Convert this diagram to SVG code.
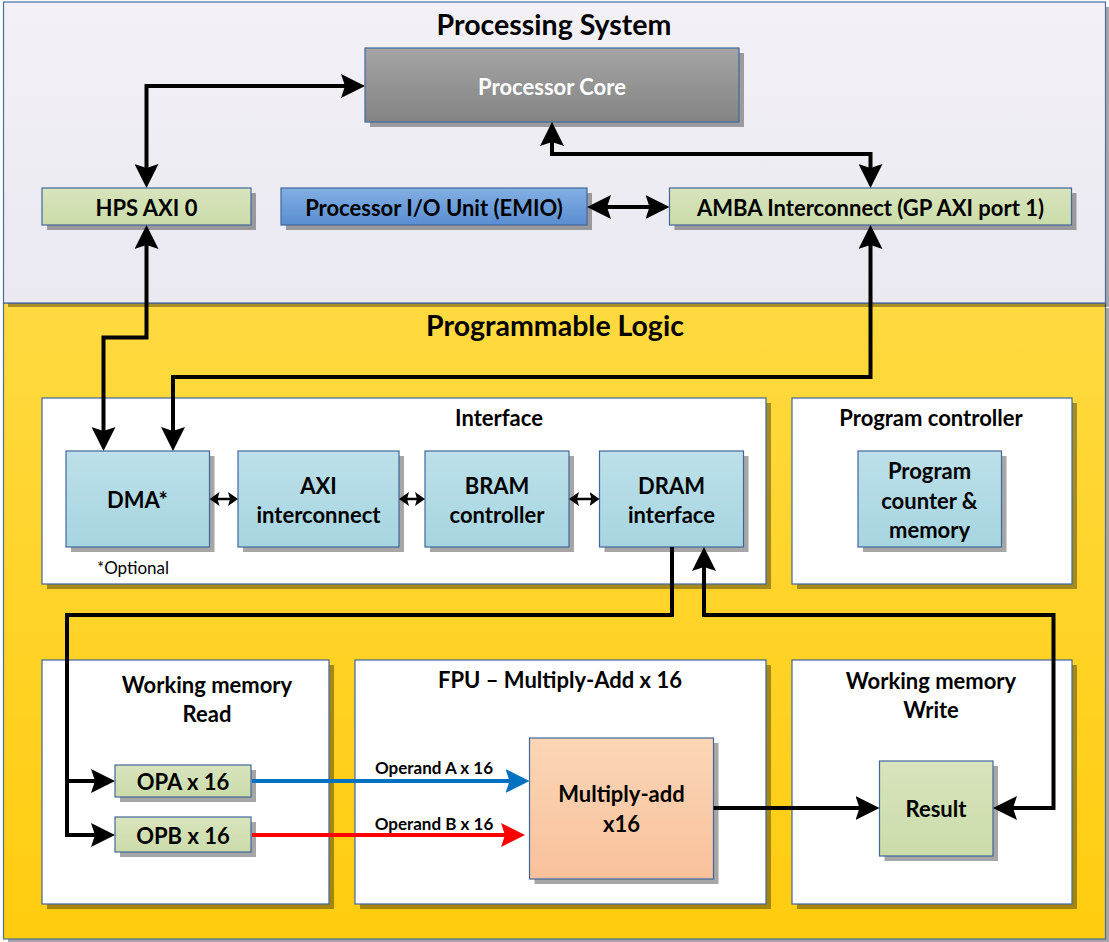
<svg xmlns="http://www.w3.org/2000/svg" width="1109" height="942" viewBox="0 0 1109 942">
  <defs>
    <linearGradient id="gPS" x1="0" y1="0" x2="0" y2="1">
      <stop offset="0" stop-color="#F3F1F7"/>
      <stop offset="1" stop-color="#EAE8F0"/>
    </linearGradient>
    <linearGradient id="gPL" x1="0" y1="0" x2="0" y2="1">
      <stop offset="0" stop-color="#FFDA40"/>
      <stop offset="1" stop-color="#FFCC0E"/>
    </linearGradient>
    <linearGradient id="gGray" x1="0" y1="0" x2="0" y2="1">
      <stop offset="0" stop-color="#A4A4A4"/>
      <stop offset="1" stop-color="#848484"/>
    </linearGradient>
    <linearGradient id="gGreen" x1="0" y1="0" x2="0" y2="1">
      <stop offset="0" stop-color="#D8E4BD"/>
      <stop offset="1" stop-color="#CBDCAA"/>
    </linearGradient>
    <linearGradient id="gBlue" x1="0" y1="0" x2="0" y2="1">
      <stop offset="0" stop-color="#82AFE3"/>
      <stop offset="1" stop-color="#5A8ED2"/>
    </linearGradient>
    <linearGradient id="gCyan" x1="0" y1="0" x2="0" y2="1">
      <stop offset="0" stop-color="#BDE0EA"/>
      <stop offset="1" stop-color="#A6D5E0"/>
    </linearGradient>
    <linearGradient id="gPeach" x1="0" y1="0" x2="0" y2="1">
      <stop offset="0" stop-color="#FCD6B6"/>
      <stop offset="1" stop-color="#F8C19B"/>
    </linearGradient>
    <!-- large arrowhead: tip lies 8px beyond the path end -->
    <marker id="arrow" viewBox="0 0 24 24" refX="16" refY="12" markerWidth="24" markerHeight="24" markerUnits="userSpaceOnUse" orient="auto-start-reverse">
      <path d="M0,0 L24,12 L0,24 L4,12 Z" fill="#000"/>
    </marker>
    <marker id="arrowBlue" viewBox="0 0 24 24" refX="16" refY="12" markerWidth="24" markerHeight="24" markerUnits="userSpaceOnUse" orient="auto">
      <path d="M0,0 L24,12 L0,24 L4,12 Z" fill="#0070C0"/>
    </marker>
    <marker id="arrowRed" viewBox="0 0 24 24" refX="16" refY="12" markerWidth="24" markerHeight="24" markerUnits="userSpaceOnUse" orient="auto">
      <path d="M0,0 L24,12 L0,24 L4,12 Z" fill="#FF0000"/>
    </marker>
    <!-- small arrowhead for the interface links -->
    <marker id="arrowSm" viewBox="0 0 10 14" refX="6" refY="7" markerWidth="10" markerHeight="14" markerUnits="userSpaceOnUse" orient="auto-start-reverse">
      <path d="M0,0 L10,7 L0,14 L2,7 Z" fill="#000"/>
    </marker>
  </defs>
  <style>
    text { font-family: "Lato", "Liberation Sans", sans-serif; font-weight: bold; fill: #000; text-anchor: middle; dominant-baseline: central; }
    .title { font-size: 28.5px; }
    .lbl { font-size: 22px; }
    .small { font-size: 17px; font-weight: normal; }
    .op { font-size: 17px; }
    .white { fill: #FFFFFF; }
    .shadow { fill: #000; fill-opacity: 0.35; }
    .frame { stroke: #4A6C9E; stroke-width: 1.2; }
    .node { stroke: #41679A; stroke-width: 1.2; }
    .container { fill: #FFFFFF; stroke: #3F64A0; stroke-width: 1.2; }
    .wire { fill: none; stroke: #000; stroke-width: 4; stroke-linejoin: miter; }
    .wire-sm { fill: none; stroke: #000; stroke-width: 2.5; }
  </style>

  <!-- Programmable Logic region -->
  <g id="programmable-logic">
    <rect class="shadow" x="8" y="308" width="1101" height="636"/>
    <rect class="frame" x="3.5" y="303" width="1102" height="636" fill="url(#gPL)"/>
    <text class="title" x="555" y="325">Programmable Logic</text>
  </g>

  <!-- Processing System region -->
  <g id="processing-system">
    <rect class="shadow" x="8" y="7" width="1101" height="300"/>
    <rect class="frame" x="3.5" y="2" width="1102" height="301" fill="url(#gPS)"/>
    <text class="title" x="554" y="24">Processing System</text>
  </g>

  <g id="processor-core">
    <rect class="shadow" x="370" y="53" width="374" height="74"/>
    <rect class="node" x="365" y="48" width="374" height="74" fill="url(#gGray)" stroke="#2F5597"/>
    <text class="lbl white" x="552" y="86">Processor Core</text>
  </g>

  <g id="hps-axi0">
    <rect class="shadow" x="47" y="193" width="209" height="37"/>
    <rect class="node" x="42" y="188" width="209" height="37" fill="url(#gGreen)"/>
    <text class="lbl" x="146.5" y="207">HPS AXI 0</text>
  </g>

  <g id="emio">
    <rect class="shadow" x="286" y="193" width="306" height="37"/>
    <rect class="node" x="281" y="188" width="306" height="37" fill="url(#gBlue)"/>
    <text class="lbl" x="434" y="207">Processor I/O Unit (EMIO)</text>
  </g>

  <g id="amba">
    <rect class="shadow" x="674.5" y="193" width="402" height="37"/>
    <rect class="node" x="669.5" y="188" width="402" height="37" fill="url(#gGreen)"/>
    <text class="lbl" x="870.5" y="207">AMBA Interconnect (GP AXI port 1)</text>
  </g>

  <!-- Interface container -->
  <g id="interface">
    <rect class="shadow" x="47" y="403" width="724" height="186"/>
    <rect class="container" x="42" y="398" width="724" height="186"/>
    <text class="lbl" x="499" y="417">Interface</text>
    <text class="small" x="133" y="567">*Optional</text>
  </g>

  <g id="dma">
    <rect class="shadow" x="71" y="456" width="143.5" height="96"/>
    <rect class="node" x="66" y="451" width="143.5" height="96" fill="url(#gCyan)"/>
    <text class="lbl" x="137.5" y="499">DMA*</text>
  </g>

  <g id="axi-interconnect">
    <rect class="shadow" x="243" y="456" width="161" height="96"/>
    <rect class="node" x="238" y="451" width="161" height="96" fill="url(#gCyan)"/>
    <text class="lbl" x="318.5" y="485">AXI</text>
    <text class="lbl" x="318.5" y="514">interconnect</text>
  </g>

  <g id="bram-controller">
    <rect class="shadow" x="430" y="456" width="144" height="96"/>
    <rect class="node" x="425" y="451" width="144" height="96" fill="url(#gCyan)"/>
    <text class="lbl" x="497" y="485">BRAM</text>
    <text class="lbl" x="497" y="514">controller</text>
  </g>

  <g id="dram-interface">
    <rect class="shadow" x="604.5" y="456" width="144" height="96"/>
    <rect class="node" x="599.5" y="451" width="144" height="96" fill="url(#gCyan)"/>
    <text class="lbl" x="671.5" y="485">DRAM</text>
    <text class="lbl" x="671.5" y="514">interface</text>
  </g>

  <!-- Program controller container -->
  <g id="program-controller">
    <rect class="shadow" x="797" y="403" width="280" height="186"/>
    <rect class="container" x="792" y="398" width="280" height="186"/>
    <text class="lbl" x="931" y="417">Program controller</text>
  </g>

  <g id="program-counter">
    <rect class="shadow" x="863" y="456" width="143.5" height="96"/>
    <rect class="node" x="858" y="451" width="143.5" height="96" fill="url(#gCyan)"/>
    <text class="lbl" x="929.5" y="470">Program</text>
    <text class="lbl" x="929.5" y="500">counter &amp;</text>
    <text class="lbl" x="929.5" y="529">memory</text>
  </g>

  <!-- Working memory read -->
  <g id="wm-read">
    <rect class="shadow" x="47" y="665" width="287" height="244"/>
    <rect class="container" x="42" y="660" width="287" height="244"/>
    <text class="lbl" x="207" y="684">Working memory</text>
    <text class="lbl" x="207" y="713">Read</text>
  </g>

  <g id="opa">
    <rect class="shadow" x="120" y="770" width="136" height="32"/>
    <rect class="node" x="115" y="765" width="136" height="32" fill="url(#gGreen)"/>
    <text class="lbl" x="183" y="781">OPA x 16</text>
  </g>

  <g id="opb">
    <rect class="shadow" x="120" y="822" width="136" height="35"/>
    <rect class="node" x="115" y="817" width="136" height="35" fill="url(#gGreen)"/>
    <text class="lbl" x="183" y="835">OPB x 16</text>
  </g>

  <!-- FPU container -->
  <g id="fpu">
    <rect class="shadow" x="360" y="665" width="411" height="244"/>
    <rect class="container" x="355" y="660" width="411" height="244"/>
    <text class="lbl" x="560" y="679">FPU – Multiply-Add x 16</text>
  </g>

  <g id="multiply-add">
    <rect class="shadow" x="534.5" y="743" width="184" height="141"/>
    <rect class="node" x="529.5" y="738" width="184" height="141" fill="url(#gPeach)"/>
    <text class="lbl" x="621.5" y="793">Multiply-add</text>
    <text class="lbl" x="621.5" y="823">x16</text>
  </g>

  <!-- Working memory write -->
  <g id="wm-write">
    <rect class="shadow" x="797" y="665" width="280" height="244"/>
    <rect class="container" x="792" y="660" width="280" height="244"/>
    <text class="lbl" x="931" y="680">Working memory</text>
    <text class="lbl" x="931" y="709">Write</text>
  </g>

  <g id="result">
    <rect class="shadow" x="884.5" y="766" width="113.5" height="95"/>
    <rect class="node" x="879.5" y="761" width="113.5" height="95" fill="url(#gGreen)"/>
    <text class="lbl" x="936" y="808">Result</text>
  </g>

  <!-- Connectors -->
  <g id="connectors">
    <path class="wire" d="M146.5,180 L146.5,86 L357,86" marker-start="url(#arrow)" marker-end="url(#arrow)"/>
    <path class="wire" d="M552,130 L552,154 L870.5,154 L870.5,180" marker-start="url(#arrow)" marker-end="url(#arrow)"/>
    <path class="wire" d="M595,207 L661.5,207" marker-start="url(#arrow)" marker-end="url(#arrow)"/>
    <path class="wire" d="M146.5,233 L146.5,337.5 L103.5,337.5 L103.5,443" marker-start="url(#arrow)" marker-end="url(#arrow)"/>
    <path class="wire" d="M870.5,233 L870.5,377 L173,377 L173,443" marker-start="url(#arrow)" marker-end="url(#arrow)"/>

    <path class="wire-sm" d="M213.5,499 L234,499" marker-start="url(#arrowSm)" marker-end="url(#arrowSm)"/>
    <path class="wire-sm" d="M403,499 L421,499" marker-start="url(#arrowSm)" marker-end="url(#arrowSm)"/>
    <path class="wire-sm" d="M573,499 L595.5,499" marker-start="url(#arrowSm)" marker-end="url(#arrowSm)"/>

    <path class="wire" d="M672,547 L672,615 L67,615 L67,835 L107,835" marker-end="url(#arrow)"/>
    <path class="wire" d="M67,781 L107,781" marker-end="url(#arrow)"/>
    <path class="wire" d="M704,555 L704,615 L1053.5,615 L1053.5,808 L1001,808" marker-start="url(#arrow)" marker-end="url(#arrow)"/>
    <path class="wire" d="M713.5,808 L871.5,808" marker-end="url(#arrow)"/>

    <path d="M252,781 L521.5,781" fill="none" stroke="#0070C0" stroke-width="4" marker-end="url(#arrowBlue)"/>
    <path d="M252,835 L517,835" fill="none" stroke="#FF0000" stroke-width="4" marker-end="url(#arrowRed)"/>
    <text class="op" x="434" y="767">Operand A x 16</text>
    <text class="op" x="434" y="823">Operand B x 16</text>
  </g>
</svg>
